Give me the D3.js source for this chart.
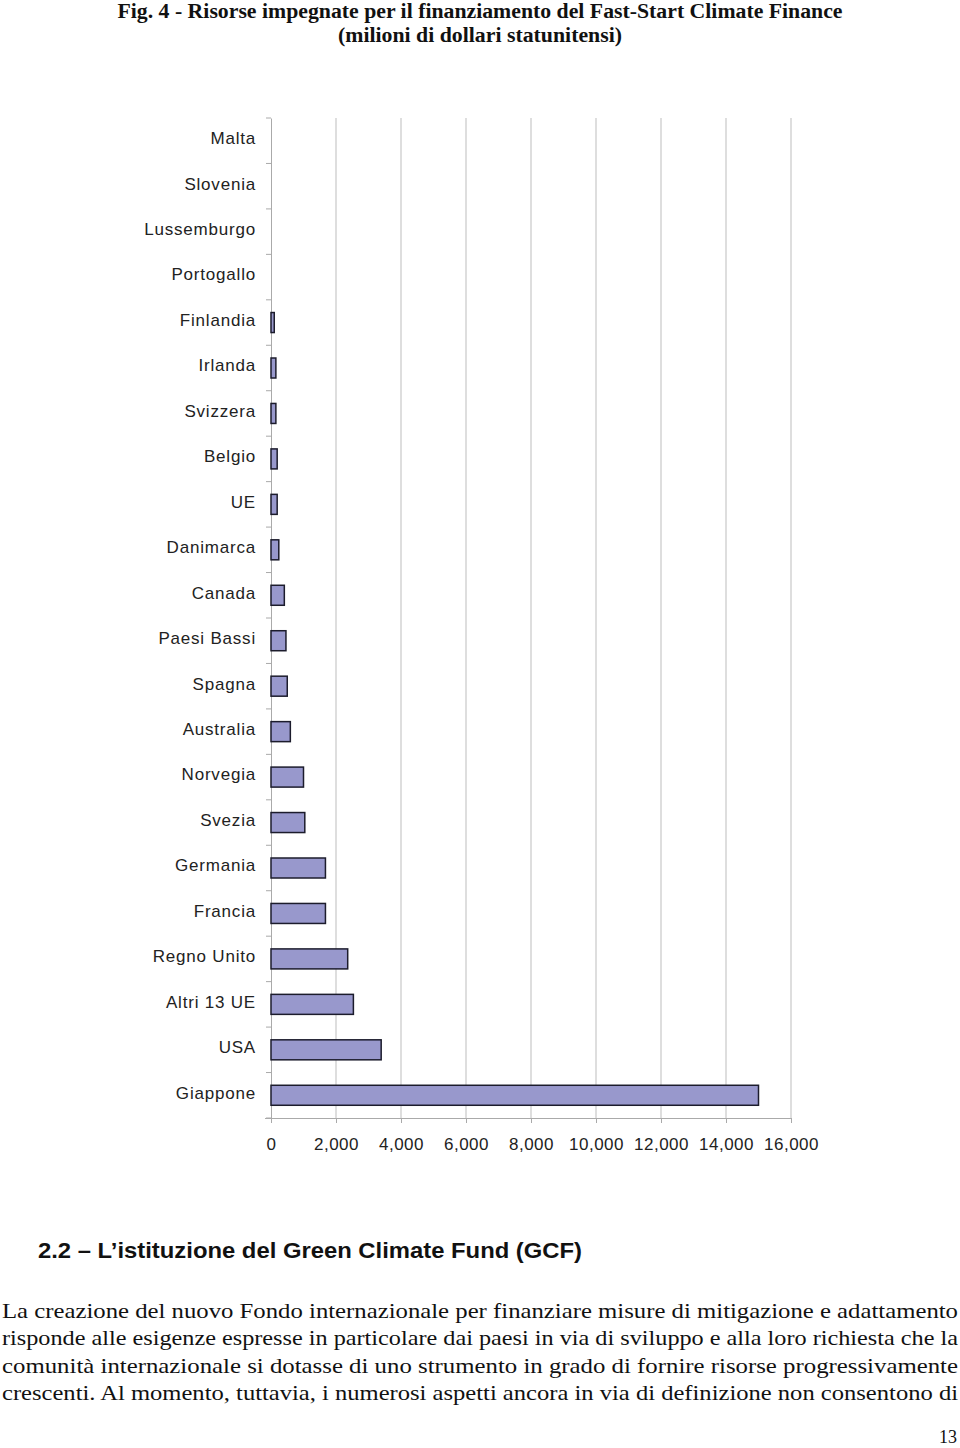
<!DOCTYPE html>
<html><head><meta charset="utf-8">
<script src="https://cdn.jsdelivr.net/npm/d3@7"></script>
<style>body{margin:0;background:#fff}svg{display:block}</style>
</head><body>
<svg id="c" width="960" height="1448"></svg>
<script>
const categories = ["Malta","Slovenia","Lussemburgo","Portogallo","Finlandia","Irlanda","Svizzera","Belgio","UE","Danimarca","Canada","Paesi Bassi","Spagna","Australia","Norvegia","Svezia","Germania","Francia","Regno Unito","Altri 13 UE","USA","Giappone"];
const values = [0,0,0,0,100,150,150,190,190,240,410,460,500,595,1000,1040,1675,1675,2360,2535,3390,15000];
const xTicks = [0,2000,4000,6000,8000,10000,12000,14000,16000];
const titleLines = ["Fig. 4 - Risorse impegnate per il finanziamento del Fast-Start Climate Finance","(milioni di dollari statunitensi)"];
const heading = "2.2 \u2013 L\u2019istituzione del Green Climate Fund (GCF)";
const bodyLines = [
 "La creazione del nuovo Fondo internazionale per finanziare misure di mitigazione e adattamento",
 "risponde alle esigenze espresse in particolare dai paesi in via di sviluppo e alla loro richiesta che la",
 "comunit\u00e0 internazionale si dotasse di uno strumento in grado di fornire risorse progressivamente",
 "crescenti. Al momento, tuttavia, i numerosi aspetti ancora in via di definizione non consentono di"
];
const pageNum = "13";

const svg = d3.select("#c");
const L = 271, R = 791, T = 118, B = 1118;
const x = d3.scaleLinear().domain([0,16000]).range([L,R]);
const y = d3.scaleBand().domain(categories).range([T,B]).paddingInner(0.56).paddingOuter(0.28);
const yb = d3.scaleBand().domain(categories).range([T,B]);

// title
svg.selectAll("text.title").data(titleLines).join("text")
  .attr("x",480).attr("y",(d,i)=>18+i*24).attr("text-anchor","middle")
  .attr("font-family","Liberation Serif").attr("font-weight","bold").attr("font-size",20.5)
  .attr("textLength",(d,i)=>i===0?725:284).attr("lengthAdjust","spacingAndGlyphs")
  .attr("fill","#111").text(d=>d);

// gridlines
svg.append("g").selectAll("line").data(xTicks.slice(1)).join("line")
  .attr("x1",d=>x(d)).attr("x2",d=>x(d)).attr("y1",T).attr("y2",B)
  .attr("stroke","#bdbdbd").attr("stroke-width",1);

// y axis
const yAxis = svg.append("g").attr("transform",`translate(${L},0)`)
  .call(d3.axisLeft(yb).tickSize(0).tickPadding(15).tickFormat(d=>d));
yAxis.select(".domain").attr("stroke","#aaa");
yAxis.selectAll("text").attr("font-family","Liberation Sans").attr("font-size",17).attr("letter-spacing",0.8)
  .attr("fill","#222").attr("dy","0.2em");
svg.append("g").selectAll("line").data(d3.range(categories.length+1)).join("line")
  .attr("x1",L-5).attr("x2",L).attr("y1",i=>T+i*yb.step()).attr("y2",i=>T+i*yb.step())
  .attr("stroke","#aaa");

// x axis
const xAxis = svg.append("g").attr("transform",`translate(0,${B})`)
  .call(d3.axisBottom(x).tickValues(xTicks).tickSize(5).tickPadding(15).tickFormat(d3.format(",")).tickSizeOuter(0));
xAxis.select(".domain").attr("stroke","#aaa").attr("d",`M${L-6},0.5H${R}`);
xAxis.selectAll(".tick line").attr("stroke","#aaa");
xAxis.selectAll("text").attr("font-family","Liberation Sans").attr("font-size",17).attr("letter-spacing",0.5).attr("fill","#222");

// bars
svg.append("g").selectAll("rect").data(categories.map((c,i)=>({c,v:values[i]})).filter(d=>d.v>0)).join("rect")
  .attr("x",x(0)).attr("y",d=>y(d.c)).attr("width",d=>x(d.v)-x(0)).attr("height",y.bandwidth())
  .attr("fill","#9898cc").attr("stroke","#1c1c2c").attr("stroke-width",1.5);

// heading
svg.append("text").attr("x",38).attr("y",1258).attr("font-family","Liberation Sans").attr("font-weight","bold")
  .attr("font-size",22).attr("textLength",544).attr("lengthAdjust","spacingAndGlyphs").attr("fill","#111").text(heading);

// body
svg.selectAll("text.body").data(bodyLines).join("text")
  .attr("x",2).attr("y",(d,i)=>1318+i*27.4)
  .attr("font-family","Liberation Serif").attr("font-size",22).attr("fill","#111")
  .attr("textLength",956).attr("lengthAdjust","spacingAndGlyphs").text(d=>d);

svg.append("text").attr("x",957).attr("y",1443).attr("text-anchor","end")
  .attr("font-family","Liberation Serif").attr("font-size",18).attr("fill","#111").text(pageNum);
</script>
</body></html>
